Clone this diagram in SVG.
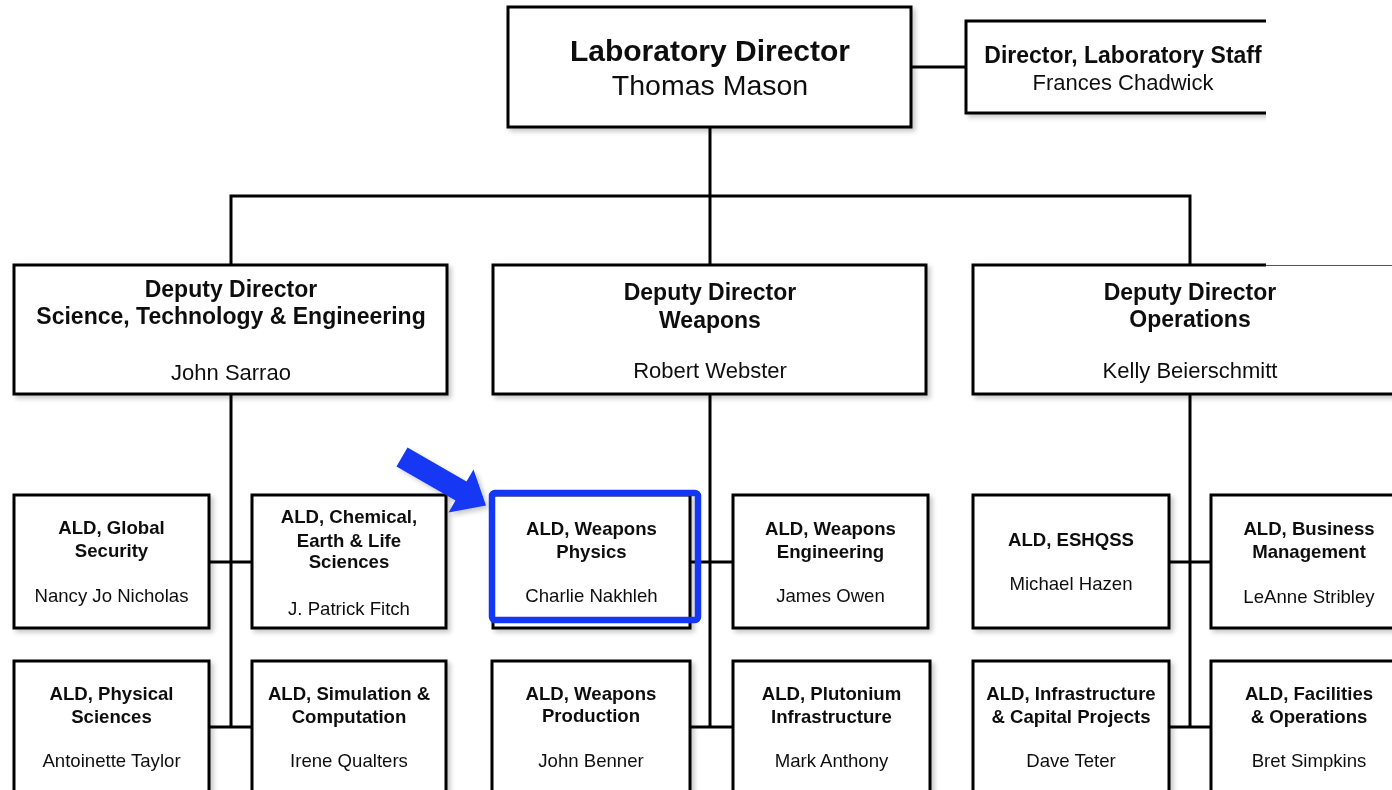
<svg xmlns="http://www.w3.org/2000/svg" width="1392" height="790" viewBox="0 0 1392 790">
<defs>
<filter id="sh" x="-10%" y="-10%" width="130%" height="130%">
<feGaussianBlur in="SourceAlpha" stdDeviation="2.5"/>
<feOffset dx="3" dy="3" result="b"/>
<feComponentTransfer><feFuncA type="linear" slope="0.22"/></feComponentTransfer>
<feMerge><feMergeNode/><feMergeNode in="SourceGraphic"/></feMerge>
</filter>
<clipPath id="cutStaff"><rect x="900" y="0" width="366" height="140"/></clipPath>
</defs>
<style>
.box{fill:#fff;stroke:#000;stroke-width:3}
.bf{fill:#fff}
.ln{fill:none;stroke:#000;stroke-width:3}
text{font-family:"Liberation Sans",Arial,sans-serif;fill:#111;text-anchor:middle}
.t1{font-size:30px;font-weight:bold}
.n1{font-size:28.5px}
.t2{font-size:23px;font-weight:bold}
.n2{font-size:22px}
.t3{font-size:18.6px;font-weight:bold}
.n3{font-size:18.6px}
</style>
<rect width="1392" height="790" fill="#fff"/>

<g id="connectors">
<path class="ln" d="M710 127V265M231 265V196H1190V265M911 67H966"/>
<path class="ln" d="M231 394V727M710 394V727M1190 394V727"/>
<path class="ln" d="M209 562H252M690 562H733M1169 562H1211M209 727H252M690 727H733M1169 727H1211"/>
</g>

<g id="lab-director" filter="url(#sh)">
<rect class="box" x="508" y="7" width="403" height="120"/>
<text class="t1" x="710" y="61">Laboratory Director</text>
<text class="n1" x="710" y="95">Thomas Mason</text>
</g>

<g id="lab-staff" clip-path="url(#cutStaff)">
<g filter="url(#sh)">
<rect class="bf" x="966" y="21" width="314" height="92"/>
<path class="ln" d="M1280 21H966V113H1280"/>
<text class="t2" x="1123" y="63">Director, Laboratory Staff</text>
<text class="n2" x="1123" y="90">Frances Chadwick</text>
</g>
</g>

<g id="dd-ste" filter="url(#sh)">
<rect class="box" x="14" y="265" width="433" height="129"/>
<text class="t2" x="231" y="297">Deputy Director</text>
<text class="t2" x="231" y="324">Science, Technology &amp; Engineering</text>
<text class="n2" x="231" y="380">John Sarrao</text>
</g>

<g id="dd-weapons" filter="url(#sh)">
<rect class="box" x="493" y="265" width="433" height="129"/>
<text class="t2" x="710" y="300">Deputy Director</text>
<text class="t2" x="710" y="328">Weapons</text>
<text class="n2" x="710" y="378">Robert Webster</text>
</g>

<g id="dd-operations" filter="url(#sh)">
<rect class="bf" x="973" y="265" width="433" height="129"/>
<path class="ln" d="M1266 265H973V394H1406"/>
<path d="M1266 265.5H1406" stroke="#555" stroke-width="1" fill="none"/>
<text class="t2" x="1190" y="300">Deputy Director</text>
<text class="t2" x="1190" y="327">Operations</text>
<text class="n2" x="1190" y="378">Kelly Beierschmitt</text>
</g>

<g id="ald-global-security" filter="url(#sh)">
<rect class="box" x="14" y="495" width="195" height="133"/>
<text class="t3" x="111.5" y="534">ALD, Global</text>
<text class="t3" x="111.5" y="557">Security</text>
<text class="n3" x="111.5" y="602">Nancy Jo Nicholas</text>
</g>

<g id="ald-cels" filter="url(#sh)">
<rect class="box" x="252" y="495" width="194" height="133"/>
<text class="t3" x="349" y="523">ALD, Chemical,</text>
<text class="t3" x="349" y="547">Earth &amp; Life</text>
<text class="t3" x="349" y="568">Sciences</text>
<text class="n3" x="349" y="615">J. Patrick Fitch</text>
</g>

<g id="ald-weapons-physics" filter="url(#sh)">
<rect class="box" x="493" y="495" width="197" height="133"/>
<text class="t3" x="591.5" y="535">ALD, Weapons</text>
<text class="t3" x="591.5" y="558">Physics</text>
<text class="n3" x="591.5" y="602">Charlie Nakhleh</text>
</g>

<g id="ald-weapons-engineering" filter="url(#sh)">
<rect class="box" x="733" y="495" width="195" height="133"/>
<text class="t3" x="830.5" y="535">ALD, Weapons</text>
<text class="t3" x="830.5" y="558">Engineering</text>
<text class="n3" x="830.5" y="602">James Owen</text>
</g>

<g id="ald-eshqss" filter="url(#sh)">
<rect class="box" x="973" y="495" width="196" height="133"/>
<text class="t3" x="1071" y="546">ALD, ESHQSS</text>
<text class="n3" x="1071" y="590">Michael Hazen</text>
</g>

<g id="ald-business" filter="url(#sh)">
<rect class="box" x="1211" y="495" width="196" height="133"/>
<text class="t3" x="1309" y="535">ALD, Business</text>
<text class="t3" x="1309" y="558">Management</text>
<text class="n3" x="1309" y="603">LeAnne Stribley</text>
</g>

<g id="ald-physical-sciences" filter="url(#sh)">
<rect class="box" x="14" y="661" width="195" height="140"/>
<text class="t3" x="111.5" y="700">ALD, Physical</text>
<text class="t3" x="111.5" y="723">Sciences</text>
<text class="n3" x="111.5" y="767">Antoinette Taylor</text>
</g>

<g id="ald-simulation" filter="url(#sh)">
<rect class="box" x="252" y="661" width="194" height="140"/>
<text class="t3" x="349" y="700">ALD, Simulation &amp;</text>
<text class="t3" x="349" y="723">Computation</text>
<text class="n3" x="349" y="767">Irene Qualters</text>
</g>

<g id="ald-weapons-production" filter="url(#sh)">
<rect class="box" x="492" y="661" width="198" height="140"/>
<text class="t3" x="591" y="700">ALD, Weapons</text>
<text class="t3" x="591" y="722">Production</text>
<text class="n3" x="591" y="767">John Benner</text>
</g>

<g id="ald-plutonium" filter="url(#sh)">
<rect class="box" x="733" y="661" width="197" height="140"/>
<text class="t3" x="831.5" y="700">ALD, Plutonium</text>
<text class="t3" x="831.5" y="723">Infrastructure</text>
<text class="n3" x="831.5" y="767">Mark Anthony</text>
</g>

<g id="ald-infrastructure" filter="url(#sh)">
<rect class="box" x="973" y="661" width="196" height="140"/>
<text class="t3" x="1071" y="700">ALD, Infrastructure</text>
<text class="t3" x="1071" y="723">&amp; Capital Projects</text>
<text class="n3" x="1071" y="767">Dave Teter</text>
</g>

<g id="ald-facilities" filter="url(#sh)">
<rect class="box" x="1211" y="661" width="196" height="140"/>
<text class="t3" x="1309" y="700">ALD, Facilities</text>
<text class="t3" x="1309" y="723">&amp; Operations</text>
<text class="n3" x="1309" y="767">Bret Simpkins</text>
</g>

<g id="highlight">
<rect x="492" y="493" width="206" height="127" rx="3" fill="none" stroke="#1437f5" stroke-width="6.5"/>
<polygon points="407.5,447.5 466.5,481.5 473.5,469.4 486,505.5 448.5,512.6 455.5,500.5 396.5,466.5" fill="#1437f5" filter="url(#sh)"/>
</g>
</svg>
